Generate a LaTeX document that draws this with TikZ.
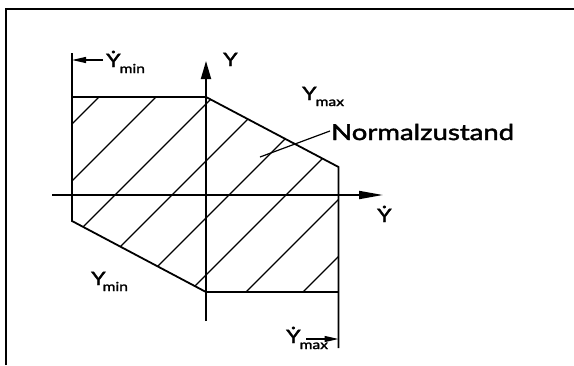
\documentclass[tikz,border=0pt]{standalone}
\usepackage{fontspec}
\setmainfont{Lato}[FakeStretch=1.25, FakeBold=2]
\usetikzlibrary{arrows.meta}
\newcommand\dY{\setbox0\hbox{Y}\rlap{\hbox to\wd0{\hss\raisebox{\dimexpr\ht0+0.04em\relax}{.}\hss}}Y}
\newcommand\lowsub[1]{\raisebox{-6pt}{\fontsize{12.5}{12.5}\selectfont #1}}
\begin{document}
\begin{tikzpicture}[x=1pt,y=-1pt,
  edge/.style={line width=1.8pt},
  hatch/.style={line width=1.3pt},
  thinline/.style={line width=1.2pt},
  lab/.style={inner sep=0pt,anchor=base west,font=\fontsize{18.5}{18.5}\selectfont},
]
\useasboundingbox (0,0) rectangle (574,365);
\fill[white] (0,0) rectangle (574,365);
\draw[line width=2pt] (6,365) -- (6,9) -- (574,9);
\coordinate (A) at (72,97);
\coordinate (B) at (206,97);
\coordinate (C) at (338.5,167);
\coordinate (D) at (338.5,292);
\coordinate (E) at (206,292);
\coordinate (F) at (72,221);
\coordinate (Ltop) at (72,53);
\coordinate (Rbot) at (338.5,348);
\begin{scope}
\clip (A) -- (B) -- (C) -- (D) -- (E) -- (F) -- cycle;
\foreach \c in {196,253,...,595} \draw[hatch] (\c-300,300) -- (\c,0);
\end{scope}
\draw[edge] (Ltop) -- (F) -- (E) -- (D);
\draw[edge] (A) -- (B) -- (C) -- (Rbot);
% axes
\coordinate (xs) at (52,195);
\coordinate (xe) at (383,195);
\coordinate (ys) at (206,321);
\coordinate (ye) at (206,61);
\draw[edge,-{Triangle[length=24pt,width=8pt]}] (xs) -- (xe);
\draw[edge,-{Triangle[length=18pt,width=10pt]}] (ys) -- (ye);
% limit markers
\coordinate (mins) at (103,60);
\coordinate (mine) at (72,60);
\coordinate (maxs) at (306,339);
\coordinate (maxe) at (338.5,339);
\draw[thinline,-{Triangle[length=14pt,width=6pt]}] (mins) -- (mine);
\draw[thinline,-{Triangle[length=14pt,width=6pt]}] (maxs) -- (maxe);
% labels
\node[lab] (ylab) at (223,66) {Y};
\node[lab] (xlab) at (377,222) {\dY};
\node[lab] (ydmin) at (106,67) {\dY\kern-1pt\lowsub{min}};
\node[lab] (ydmax) at (286,343) {\dY\kern-1pt\lowsub{max}};
\node[lab] (ymax) at (302,100) {Y\kern-1pt\lowsub{max}};
\node[lab] (ymin) at (91,285) {Y\kern-3pt\lowsub{min}};
\node[inner sep=0pt,anchor=base west,font=\fontsize{22}{22}\selectfont] (nz) at (331,140) {Normalzustand};
\coordinate (leadend) at (260,157);
\draw[thinline] ([xshift=-1pt,yshift=1pt]nz.west) -- (leadend);
\end{tikzpicture}
\end{document}
